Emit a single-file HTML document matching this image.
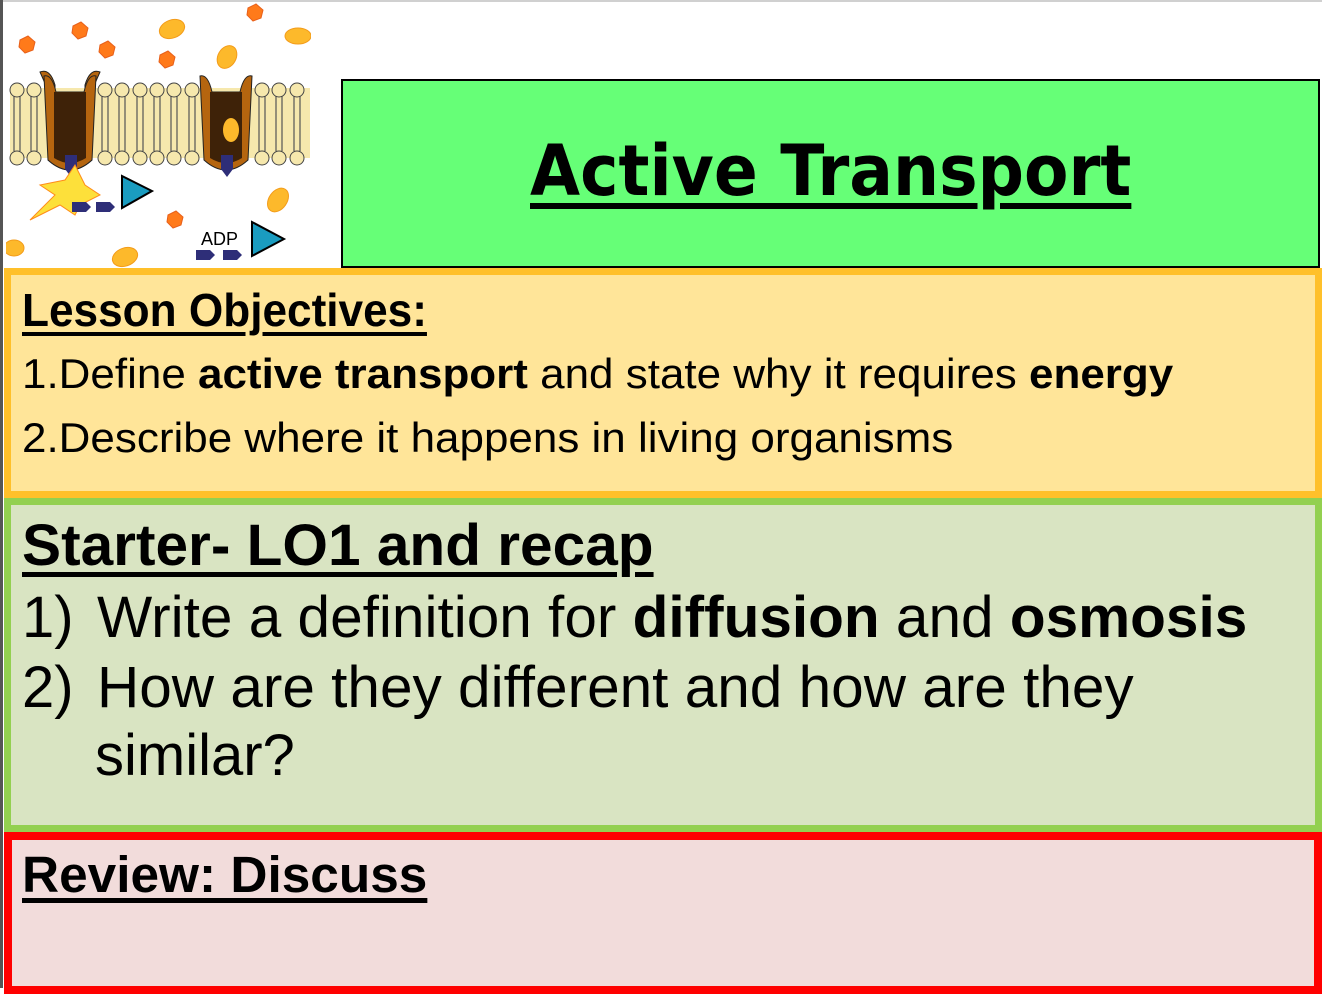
<!DOCTYPE html>
<html><head><meta charset="utf-8"><style>
*{margin:0;padding:0;box-sizing:border-box}
body{width:1322px;height:988px;overflow:hidden;background:#fff;position:relative;font-family:"Liberation Sans",Arial,sans-serif;color:#000}
.abs{position:absolute}
.t{position:absolute;white-space:nowrap;line-height:1;transform-origin:0 0}
u{text-decoration-thickness:0.09em;text-underline-offset:0.12em}
</style></head><body>
<div class="abs" style="left:0;top:0;width:1322px;height:2px;background:#d0d0d0"></div>
<div class="abs" style="left:0;top:0;width:3px;height:988px;background:#555"></div>

<svg class="abs" style="left:6px;top:2px" width="305" height="266" viewBox="6 2 305 266">
  <g fill="#ff7a1a" stroke="#e8601a" stroke-width="1">
    <polygon points="20,40 28,36 35,42 33,50 25,53 19,47"/>
    <polygon points="73,26 81,22 88,28 86,36 78,39 72,33"/>
    <polygon points="100,45 108,41 115,47 113,55 105,58 99,52"/>
    <polygon points="160,55 168,51 175,57 173,65 165,68 159,62"/>
    <polygon points="248,8 256,4 263,10 261,18 253,21 247,15"/>
    <polygon points="168,215 176,211 183,217 181,225 173,228 167,222"/>
  </g>
  <g fill="#fdb92b" stroke="#f39c1a">
    <ellipse cx="172" cy="29" rx="13" ry="9" transform="rotate(-20 172 29)"/>
    <ellipse cx="227" cy="57" rx="9" ry="12" transform="rotate(30 227 57)"/>
    <ellipse cx="298" cy="36" rx="13" ry="8"/>
    <ellipse cx="278" cy="200" rx="9" ry="13" transform="rotate(35 278 200)"/>
    <ellipse cx="125" cy="257" rx="13" ry="9" transform="rotate(-20 125 257)"/>
    <ellipse cx="14" cy="248" rx="10" ry="8"/>
  </g>
  <rect x="10" y="88" width="300" height="70" fill="#f6e8ad"/>
  <g stroke="#555" stroke-width="1.2" fill="none">
    <path d="M14 96v55M20 96v55M31 96v55M37 96v55M102 96v55M108 96v55M119 96v55M125 96v55M137 96v55M143 96v55M154 96v55M160 96v55M171 96v55M177 96v55M189 96v55M195 96v55M259 96v55M265 96v55M276 96v55M282 96v55M294 96v55M300 96v55"/>
  </g>
  <g fill="#f6e8ad" stroke="#444">
    <circle cx="17" cy="90" r="7"/><circle cx="34" cy="90" r="7"/>
    <circle cx="105" cy="90" r="7"/><circle cx="122" cy="90" r="7"/><circle cx="140" cy="90" r="7"/><circle cx="157" cy="90" r="7"/><circle cx="174" cy="90" r="7"/><circle cx="192" cy="90" r="7"/>
    <circle cx="262" cy="90" r="7"/><circle cx="279" cy="90" r="7"/><circle cx="297" cy="90" r="7"/>
    <circle cx="17" cy="158" r="7"/><circle cx="34" cy="158" r="7"/>
    <circle cx="105" cy="158" r="7"/><circle cx="122" cy="158" r="7"/><circle cx="140" cy="158" r="7"/><circle cx="157" cy="158" r="7"/><circle cx="174" cy="158" r="7"/><circle cx="192" cy="158" r="7"/>
    <circle cx="262" cy="158" r="7"/><circle cx="279" cy="158" r="7"/><circle cx="297" cy="158" r="7"/>
  </g>
  <path d="M40 72 Q50 68 55 85 L55 165 Q70 175 85 165 L85 85 Q90 68 100 72 L92 90 L92 160 Q70 180 48 160 L48 90 Z" fill="#b5650f" stroke="#222"/>
  <path d="M44 76 Q52 74 56 92 L84 92 Q88 74 96 76 L92 160 Q70 180 48 160 Z" fill="#b5650f" stroke="#222"/>
  <path d="M54 92 L86 92 L86 158 Q70 168 54 158 Z" fill="#3e2208"/>
  <path d="M200 76 Q208 74 212 92 L240 92 Q244 74 252 76 L248 160 Q226 180 204 160 Z" fill="#b5650f" stroke="#222"/>
  <path d="M210 92 L242 92 L242 158 Q226 168 210 158 Z" fill="#3e2208"/>
  <ellipse cx="231" cy="130" rx="8" ry="12" fill="#fdb92b"/>
  <path d="M65 155 h12 v14 l-6 8 l-6 -8z" fill="#2e2e78"/>
  <path d="M221 155 h12 v14 l-6 8 l-6 -8z" fill="#2e2e78"/>
  <polygon points="30,220 55,195 40,185 65,180 75,165 85,185 100,195 80,205 75,215 60,205" fill="#fde03a" stroke="#ff8c1a"/>
  <g fill="#2e2e78"><path d="M72 202h14l5 5-5 5h-14z"/><path d="M96 202h14l5 5-5 5h-14z"/><path d="M196 250h14l5 5-5 5h-14z"/><path d="M223 250h14l5 5-5 5h-14z"/></g>
  <polygon points="122,176 152,191 122,208" fill="#1a9cc0" stroke="#000" stroke-width="2"/>
  <polygon points="252,222 284,239 252,256" fill="#1a9cc0" stroke="#000" stroke-width="2"/>
  <text x="201" y="245" font-family="Liberation Sans" font-size="18" fill="#000">ADP</text>
</svg>

<div class="abs" style="left:341px;top:79px;width:979px;height:189px;background:#66ff77;border:2px solid #000"></div>
<div class="t" style="left:530px;top:136px;font-family:'DejaVu Sans',sans-serif;font-weight:bold;font-size:70px;transform:scaleX(0.925)"><u>Active Transport</u></div>

<div class="abs" style="left:4px;top:268px;width:1318px;height:230px;background:#ffe599;border:7px solid #ffc02a"></div>
<div class="t" style="left:22px;top:287px;font-size:46px;font-weight:bold;transform:scaleX(0.96)"><u>Lesson Objectives:</u></div>
<div class="t" style="left:22px;top:353px;font-size:42px;transform:scaleX(1.047)">1.Define <b>active transport</b> and state why it requires <b>energy</b></div>
<div class="t" style="left:22px;top:417px;font-size:42px;transform:scaleX(1.047)">2.Describe where it happens in living organisms</div>

<div class="abs" style="left:4px;top:498px;width:1318px;height:334px;background:#d9e4c2;border:7px solid #93d050"></div>
<div class="t" style="left:22px;top:517px;font-size:58px;font-weight:bold;transform:scaleX(1.01)"><u>Starter- LO1 and recap</u></div>
<div class="t" style="left:22px;top:589px;font-size:58px">1)</div>
<div class="t" style="left:97px;top:589px;font-size:58px;transform:scaleX(1.009)">Write a definition for <b>diffusion</b> and <b>osmosis</b></div>
<div class="t" style="left:22px;top:659px;font-size:58px">2)</div>
<div class="t" style="left:97px;top:659px;font-size:58px;transform:scaleX(1.009)">How are they different and how are they</div>
<div class="t" style="left:95px;top:727px;font-size:58px">similar?</div>

<div class="abs" style="left:4px;top:832px;width:1318px;height:162px;background:#f2dcdb;border:8px solid #ff0000"></div>
<div class="t" style="left:22px;top:849px;font-size:51px;font-weight:bold;transform:scaleX(1.007)"><u>Review: Discuss</u></div>
</body></html>
